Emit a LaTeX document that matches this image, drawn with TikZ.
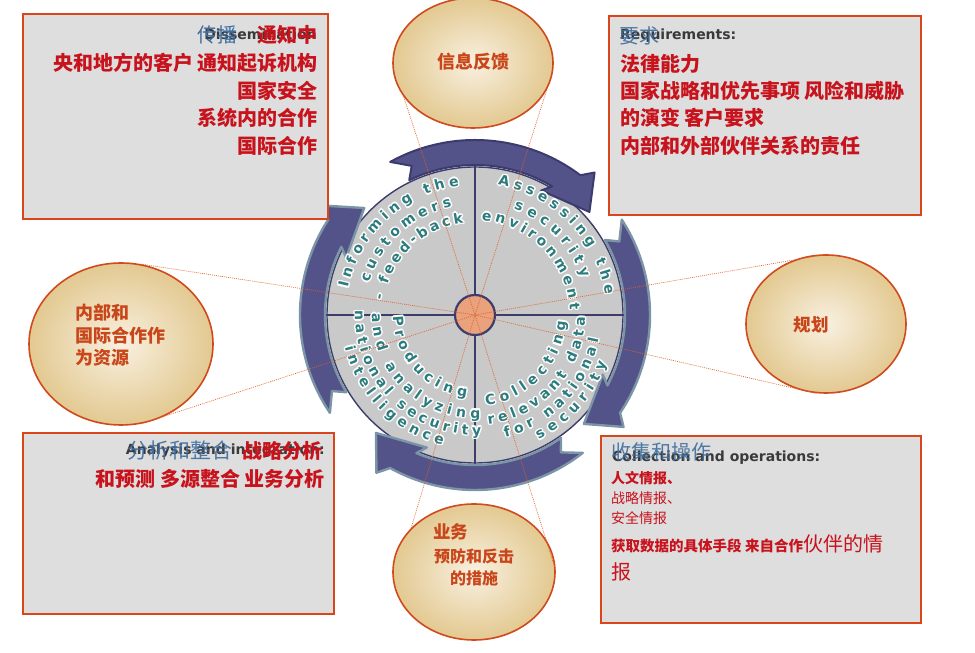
\documentclass[tikz,border=0pt]{standalone}
\usepackage{fontspec}
\usetikzlibrary{shapes.geometric,decorations.text,calc}
\newfontfamily\cjk{Noto Sans CJK SC}
\newfontfamily\hdr{DejaVu Sans}
\definecolor{arrowfill}{HTML}{53538A}
\definecolor{arrowedgeA}{HTML}{3B3B6E}
\definecolor{arrowedgeB}{HTML}{7B95A6}
\definecolor{discgray}{HTML}{C9C9C9}
\definecolor{navy}{HTML}{3D3D6B}
\definecolor{hubfill}{HTML}{E9A27C}
\definecolor{boxfill}{HTML}{DEDEDE}
\definecolor{boxedge}{HTML}{D9461B}
\definecolor{txtred}{HTML}{C8121C}
\definecolor{ellred}{HTML}{C9461A}
\definecolor{ellin}{HTML}{F8F0E0}
\definecolor{ellout}{HTML}{E3C991}
\definecolor{elledge}{HTML}{CF4A1C}
\definecolor{hdrgray}{HTML}{3A3A3A}
\definecolor{cjkblue}{HTML}{3F6E9E}
\definecolor{qteal}{HTML}{2C7C7E}
\definecolor{dotred}{HTML}{E0602A}
\newcommand\qfont{\hdr\bfseries\fontsize{14}{16}\selectfont}
\newcommand\cycarrow[3]{%
 \pgfmathsetmacro\caA{#1}%
 \pgfmathsetmacro\caB{#2+11}%
 \pgfmathsetmacro\caC{#2+8}%
 \pgfmathsetmacro\caD{#2+20}%
 \pgfmathsetmacro\caE{#2+17}%
 \pgfmathsetmacro\caF{#1-3}%
 \pgfmathsetmacro\caG{#1-6}%
 \draw[#3] (\caA:175) arc[start angle=\caA, end angle=\caB, radius=175] -- (\caC:186) -- (#2:154) -- (\caD:141) -- (\caE:150) arc[start angle=\caE, end angle=\caF, radius=150] -- (\caG:162) -- cycle;}
\newcommand\arctext[4]{%
  \foreach \hx/\hy in {1.5/0,-1.5/0,0/1.5,0/-1.5,1.06/1.06,-1.06/1.06,1.06/-1.06,-1.06/-1.06,0.7/0,-0.7/0,0/0.7,0/-0.7}{%
    \qfont\path[decorate,decoration={text along path,text align=fit to path,text={|\qfont\color{white}|#4}}] ([shift={(\hx,\hy)}]#2:#1) arc[start angle=#2,end angle=#3,radius=#1];}%
  {\qfont\path[decorate,decoration={text along path,text align=fit to path,text={|\qfont\color{qteal}|#4}}] (#2:#1) arc[start angle=#2,end angle=#3,radius=#1];}}
\begin{document}
\begin{tikzpicture}[x=1pt,y=1pt,
  box/.style={draw=boxedge, fill=boxfill, line width=1.8, inner sep=0, anchor=north west},
  cn/.style={font={\cjk\bfseries\fontsize{20}{22}\selectfont}, text=txtred, inner sep=0},
  cnsmall/.style={font={\cjk\bfseries\fontsize{14.5}{16}\selectfont}, text=txtred, inner sep=0},
  en/.style={font={\hdr\bfseries\fontsize{14}{16}\selectfont}, text=hdrgray, inner sep=0},
  bl/.style={font={\cjk\fontsize{20}{22}\selectfont}, text=cjkblue, opacity=0.9, inner sep=0},
  ell/.style={ellipse, draw=elledge, line width=1.6, inner sep=0, shade, inner color=ellin, outer color=ellout},
  et/.style={font={\cjk\bfseries\fontsize{17.5}{19}\selectfont}, text=ellred, inner sep=0},
  dotline/.style={draw=dotred, line width=0.7, dash pattern=on 1pt off 1pt, opacity=0.9},
  arrA/.style={fill=arrowfill, draw=arrowedgeA, line width=2, line join=round},
  arrB/.style={fill=arrowfill, draw=arrowedgeB, line width=2.4, line join=round}]
\useasboundingbox (0,0) rectangle (975,653);
\coordinate (C) at (475,338);

% disc
\node[circle, minimum size=296, fill=discgray, draw=navy, line width=1.4, inner sep=0] (disc) at (C) {};
\draw[navy, line width=2] (disc.north) -- (disc.south);
\draw[navy, line width=2] (disc.west) -- (disc.east);

% cycle arrows
\begin{scope}[shift={(C)}]
  \cycarrow{119}{42}{arrA}
  \cycarrow{33}{-45}{arrB}
  \cycarrow{-52}{-130}{arrB}
  \cycarrow{-146}{-224}{arrB}
\end{scope}

% hub
\node[circle, minimum size=40, fill=hubfill, draw=navy, line width=2.2, inner sep=0] (hub) at (C) {};

% curved quadrant texts
\begin{scope}[shift={(C)}]
  \arctext{130}{168}{97}{Informing the}
  \arctext{111}{163}{102}{customers}
  \arctext{93}{171}{97}{- feed-back}
  \arctext{132}{80}{9}{Assessing the}
  \arctext{113}{70}{19}{security}
  \arctext{95}{86}{3}{environment}
  \arctext{82}{181}{264}{Producing}
  \arctext{103}{179}{273}{and analyzing}
  \arctext{120}{178}{273}{national security}
  \arctext{134}{194}{256}{intelligence}
  \arctext{91}{277}{356}{Collecting}
  \arctext{110}{277}{359}{relevant data}
  \arctext{126}{284}{349}{for national}
  \arctext{140}{297}{340}{security}
\end{scope}

% ellipses
\node[ell, minimum width=160, minimum height=130] (fb) at (473,590) {};
\node[ell, minimum width=184, minimum height=162] (res) at (121,309) {};
\node[ell, minimum width=160, minimum height=138] (plan) at (826,329) {};
\node[ell, minimum width=162, minimum height=136] (ops) at (474,81) {};

\node[et, font={\cjk\bfseries\fontsize{18}{20}\selectfont}] (fbt) at (473,591) {信息反馈};
\node[et, anchor=west, font={\cjk\bfseries\fontsize{18}{20}\selectfont}] (rest1) at (75,340) {内部和};
\node[et, anchor=west, font={\cjk\bfseries\fontsize{18}{20}\selectfont}] (rest2) at (75,317) {国际合作作};
\node[et, anchor=west, font={\cjk\bfseries\fontsize{18}{20}\selectfont}] (rest3) at (75,295) {为资源};
\node[et] (plant) at (811,328) {规划};
\node[et, anchor=west] (opst1) at (433,121) {业务};
\node[et, font={\cjk\bfseries\fontsize{16}{18}\selectfont}] (opst2) at (474,97) {预防和反击};
\node[et, font={\cjk\bfseries\fontsize{16}{18}\selectfont}] (opst3) at (474,75) {的措施};

% boxes
\node[box, minimum width=305, minimum height=205] (dis) at (22,640) {};
\node[box, minimum width=312, minimum height=199] (req) at (608,638) {};
\node[box, minimum width=311, minimum height=181] (ana) at (22,221) {};
\node[box, minimum width=320, minimum height=187] (col) at (600,218) {};

% top-left box text
\node[en, anchor=base east] (disEn) at (317,613) {Dissemination};
\node[cn, anchor=base east] (dis1) at (318,610) {\textcolor{cjkblue}{\mdseries 传播}\quad 通知中};
\node[cn, anchor=base east] (dis2) at (318,582) {央和地方的客户 通知起诉机构};
\node[cn, anchor=base east] (dis3) at (318,554) {国家安全};
\node[cn, anchor=base east] (dis4) at (318,527) {系统内的合作};
\node[cn, anchor=base east] (dis5) at (318,499) {国际合作};

% top-right box text
\node[en, anchor=base west] (reqEn) at (620,613) {Requirements:};
\node[bl, anchor=base west] (reqCn) at (619,609) {要求};
\node[cn, anchor=base west] (req1) at (620,581) {法律能力};
\node[cn, anchor=base west] (req2) at (620,554) {国家战略和优先事项 风险和威胁};
\node[cn, anchor=base west] (req3) at (620,527) {的演变 客户要求};
\node[cn, anchor=base west] (req4) at (620,499) {内部和外部伙伴关系的责任};

% bottom-left box text
\node[en, anchor=base east] (anaEn) at (325,198) {Analysis and integration:};
\node[bl, anchor=base west, font={\cjk\fontsize{21}{23}\selectfont}] (anaCn) at (127,194) {分析和整合};
\node[cn, anchor=base east] (anaR) at (323,194) {战略分析};
\node[cn, anchor=base east] (ana1) at (325,166) {和预测 多源整合 业务分析};

% bottom-right box text
\node[en, anchor=base west] (colEn) at (612,191) {Collection and operations:};
\node[bl, anchor=base west] (colCn) at (611,193) {收集和操作};
\node[cnsmall, anchor=base west, font={\cjk\bfseries\fontsize{14}{16}\selectfont}] (col1) at (611,169) {人文情报、};
\node[cnsmall, anchor=base west, font={\cjk\fontsize{14}{16}\selectfont}] (col2) at (611,149) {战略情报、};
\node[cnsmall, anchor=base west, font={\cjk\fontsize{14}{16}\selectfont}] (col3) at (611,129) {安全情报};
\node[cnsmall, anchor=base west] (col4) at (611,101) {获取数据的具体手段 来自合作{\mdseries\fontsize{20}{22}\selectfont 伙伴的情}};
\node[cn, anchor=base west, font={\cjk\fontsize{20}{22}\selectfont}] (col5) at (611,73) {报};

% dotted connector lines to hub
\draw[dotline] (fb.206.6) -- (hub.center);
\draw[dotline] (fb.-20) -- (hub.center);
\draw[dotline] (res.76.6) -- (hub.center);
\draw[dotline] (res.-76.5) -- (hub.center);
\draw[dotline] (plan.89) -- (hub.center);
\draw[dotline] (plan.262.6) -- (hub.center);
\draw[dotline] (ops.145.5) -- (hub.center);
\draw[dotline] (ops.1.4) -- (hub.center);
\end{tikzpicture}
\end{document}
